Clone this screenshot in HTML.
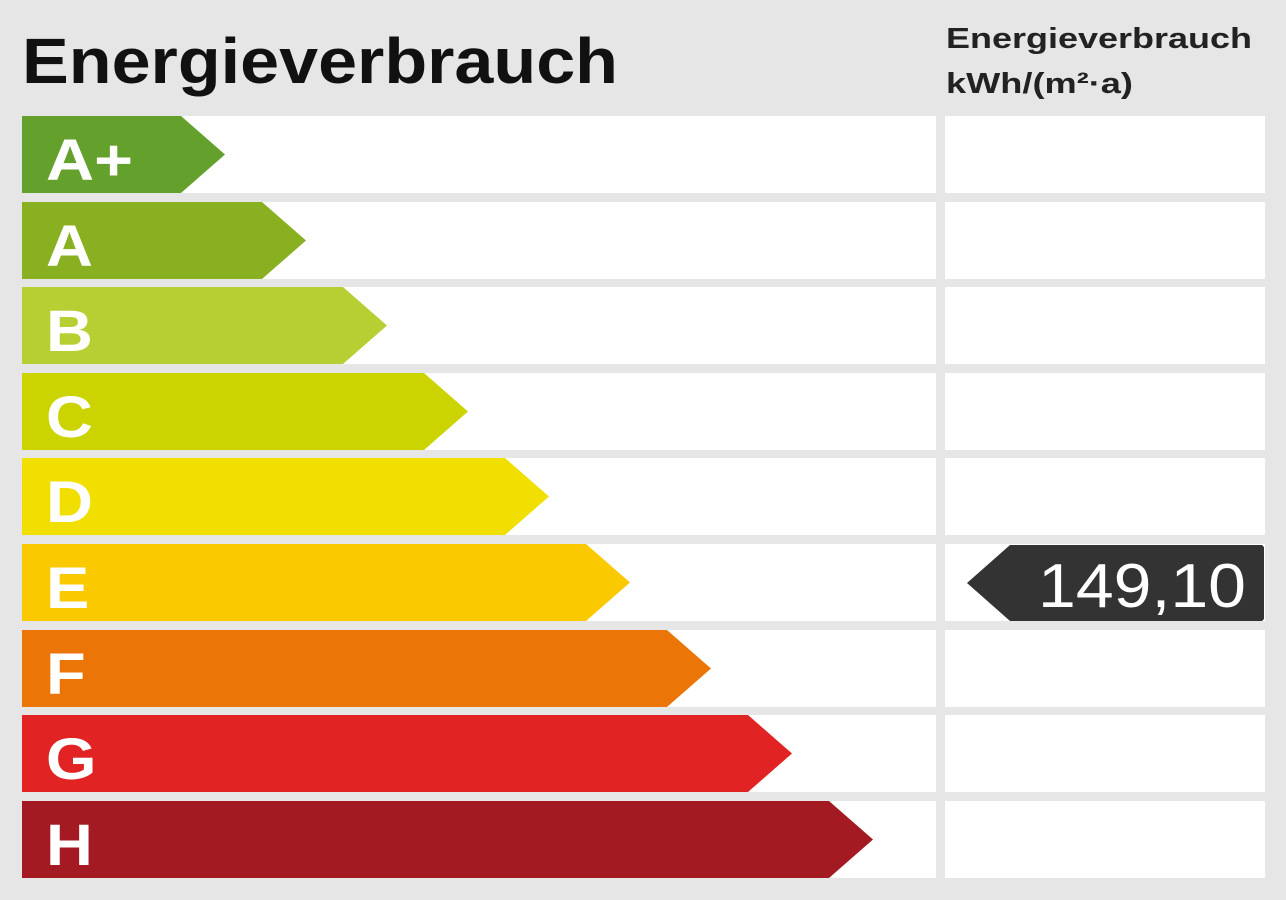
<!DOCTYPE html><html><head><meta charset="utf-8"><style>body{margin:0;background:#e6e6e6}svg{display:block}</style></head><body>
<svg width="1286" height="900" xmlns="http://www.w3.org/2000/svg" font-family="Liberation Sans, sans-serif">
<rect width="1286" height="900" fill="#e6e6e6"/>
<text x="22" y="83" font-size="64" font-weight="bold" fill="#111" textLength="596" lengthAdjust="spacingAndGlyphs">Energieverbrauch</text>
<text x="946" y="48" font-size="29" font-weight="bold" fill="#222" textLength="306" lengthAdjust="spacingAndGlyphs">Energieverbrauch</text>
<text x="946" y="93" font-size="29" font-weight="bold" fill="#222" textLength="187" lengthAdjust="spacingAndGlyphs">kWh/(m²·a)</text>
<g>
<rect x="22" y="116" width="914" height="77" fill="#fff"/><rect x="945" y="116" width="320" height="77" fill="#fff"/>
<rect x="22" y="202" width="914" height="77" fill="#fff"/><rect x="945" y="202" width="320" height="77" fill="#fff"/>
<rect x="22" y="287" width="914" height="77" fill="#fff"/><rect x="945" y="287" width="320" height="77" fill="#fff"/>
<rect x="22" y="373" width="914" height="77" fill="#fff"/><rect x="945" y="373" width="320" height="77" fill="#fff"/>
<rect x="22" y="458" width="914" height="77" fill="#fff"/><rect x="945" y="458" width="320" height="77" fill="#fff"/>
<rect x="22" y="544" width="914" height="77" fill="#fff"/><rect x="945" y="544" width="320" height="77" fill="#fff"/>
<rect x="22" y="630" width="914" height="77" fill="#fff"/><rect x="945" y="630" width="320" height="77" fill="#fff"/>
<rect x="22" y="715" width="914" height="77" fill="#fff"/><rect x="945" y="715" width="320" height="77" fill="#fff"/>
<rect x="22" y="801" width="914" height="77" fill="#fff"/><rect x="945" y="801" width="320" height="77" fill="#fff"/>
</g>
<polygon points="22,116 181,116 225,154.5 181,193 22,193" fill="#64a02c"/>
<polygon points="22,202 262,202 306,240.5 262,279 22,279" fill="#88b021"/>
<polygon points="22,287 343,287 387,325.5 343,364 22,364" fill="#b8cf33"/>
<polygon points="22,373 424,373 468,411.5 424,450 22,450" fill="#cbd400"/>
<polygon points="22,458 505,458 549,496.5 505,535 22,535" fill="#f0df00"/>
<polygon points="22,544 586,544 630,582.5 586,621 22,621" fill="#fbc900"/>
<polygon points="22,630 667,630 711,668.5 667,707 22,707" fill="#eb7506"/>
<polygon points="22,715 748,715 792,753.5 748,792 22,792" fill="#e22323"/>
<polygon points="22,801 829,801 873,839.5 829,878 22,878" fill="#a31a22"/>
<g font-size="58" font-weight="bold" fill="#fff">
<text x="46" y="180" textLength="87" lengthAdjust="spacingAndGlyphs">A+</text>
<g transform="translate(46,0) scale(1.12,1)">
<text x="0" y="266">A</text>
<text x="0" y="351">B</text>
<text x="0" y="437">C</text>
<text x="0" y="522">D</text>
<text x="0" y="608">E</text>
<text x="0" y="694">F</text>
<text x="0" y="779">G</text>
<text x="0" y="865">H</text>
</g>
</g>
<polygon points="967,583 1010,545 1262,545 1264,547 1264,619 1262,621 1010,621" fill="#333"/>
<text x="1038" y="607" font-size="62" fill="#fff" textLength="208" lengthAdjust="spacingAndGlyphs">149,10</text>
</svg></body></html>
